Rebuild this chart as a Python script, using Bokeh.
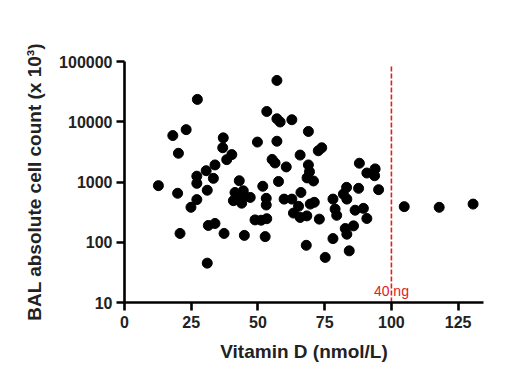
from bokeh.plotting import figure
from bokeh.models import Label, FixedTicker, ColumnDataSource
from bokeh.embed import file_html
from bokeh.resources import INLINE

# Vitamin D (nmol/L)
vitamin_d = [12.7, 18.1, 20.2, 23.1, 27.3, 19.9, 20.8, 24.9, 27.1, 27.1,
             27.1, 30.6, 31.0, 31.4, 33.9, 31.0, 33.9, 33.3, 37.0, 36.8,
             40.2, 38.3, 37.3, 43.0, 41.4, 44.5, 47.1, 40.8, 43.9, 44.1,
             44.9, 49.8, 51.8, 53.1, 53.1, 48.9, 51.2, 53.3, 52.7, 53.3,
             57.1, 57.1, 58.3, 62.7, 68.9, 57.1, 55.3, 56.4, 57.7, 60.6,
             65.8, 68.9, 69.3, 68.4, 70.8, 72.6, 73.9, 66.1, 59.8, 62.7,
             65.2, 63.3, 65.8, 68.3, 69.6, 71.1, 73.0, 78.1, 78.9, 79.5,
             78.1, 68.1, 75.2, 88.0, 90.8, 93.9, 93.7, 83.2, 82.0, 83.3,
             87.7, 95.2, 86.4, 89.5, 90.8, 85.8, 82.7, 83.3, 84.2, 104.8,
             117.9, 130.6]
# BAL absolute cell count (x 10^3)
cell_count = [870, 5900, 3000, 7400, 23500, 650, 140, 380, 1250, 950,
              510, 1540, 730, 190, 205, 45, 1920, 1150, 5400, 3700,
              2850, 2350, 140, 1050, 670, 715, 555, 490, 445, 560,
              130, 4600, 850, 535, 415, 235, 232, 246, 124, 14800,
              48500, 11200, 9900, 10800, 6900, 4750, 2370, 2070, 1020, 1780,
              2800, 1920, 1480, 1170, 1040, 3300, 3700, 670, 520, 520,
              395, 305, 258, 274, 430, 460, 242, 520, 355, 280,
              115, 89, 56, 2050, 1410, 1650, 1270, 815, 630, 520,
              785, 745, 340, 365, 248, 187, 169, 136, 72, 390,
              380, 430]

x_ticks = [0, 25, 50, 75, 100, 125]
y_ticks = [10, 100, 1000, 10000, 100000]
threshold_x = [100]
threshold_top = [85000]

FONT = "Liberation Sans"

p = figure(width=518, height=382, x_range=(0, 134.5), y_range=(10, 100000),
           y_axis_type="log", output_backend="svg", toolbar_location=None,
           min_border_left=124, min_border_top=61, min_border_right=35,
           min_border_bottom=80)
p.outline_line_color = None
p.grid.visible = False
p.background_fill_color = "white"
p.border_fill_color = "white"

# threshold line
src_thr = ColumnDataSource(dict(x0=threshold_x, y0=[10] * len(threshold_x),
                                x1=threshold_x, y1=threshold_top))
p.segment(x0="x0", y0="y0", x1="x1", y1="y1", source=src_thr,
          line_color="#e0201c", line_width=1.6, line_dash="5 2")

p.scatter(vitamin_d, cell_count, size=10, color="black")

for ax in (p.xaxis[0], p.yaxis[0]):
    ax.axis_line_width = 2.6
    ax.axis_line_color = "black"
    ax.major_tick_line_width = 2.6
    ax.major_tick_line_color = "black"
    ax.major_tick_in = 0
    ax.major_tick_out = 8
    ax.minor_tick_line_color = None
    ax.major_label_text_font = FONT
    ax.major_label_text_font_style = "bold"
    ax.major_label_text_font_size = "16px"
    ax.major_label_text_color = "#222222"
    ax.axis_label_text_font = FONT
    ax.axis_label_text_font_style = "bold"
    ax.axis_label_text_font_size = "19px"
    ax.axis_label_text_color = "#222222"

p.xaxis.ticker = FixedTicker(ticks=x_ticks)
p.yaxis.ticker = FixedTicker(ticks=y_ticks)
p.yaxis.major_label_overrides = {t: str(t) for t in y_ticks}
p.xaxis.axis_label = "Vitamin D (nmol/L)"
p.yaxis.axis_label = "BAL absolute cell count (x 10³)"
p.xaxis.major_label_standoff = 5
p.yaxis.major_label_standoff = 4
p.xaxis.axis_label_standoff = 10
p.yaxis.axis_label_standoff = 11

p.add_layout(Label(x=48.9, y=355000, text="CF", text_font=FONT,
                   text_font_style="bold", text_font_size="18px",
                   text_align="center", text_baseline="middle",
                   text_color="#222222"))
p.add_layout(Label(x=-22.5, y=2.15, text="a", text_font=FONT,
                   text_font_size="28px", text_align="center",
                   text_baseline="middle", text_color="#111111"))
p.add_layout(Label(x=100, y=15.5, text="40 ng", text_font=FONT,
                   text_font_size="14px", text_align="center",
                   text_baseline="middle", text_color="#e0201c"))

open("out.html", "w").write(file_html(p, INLINE))
